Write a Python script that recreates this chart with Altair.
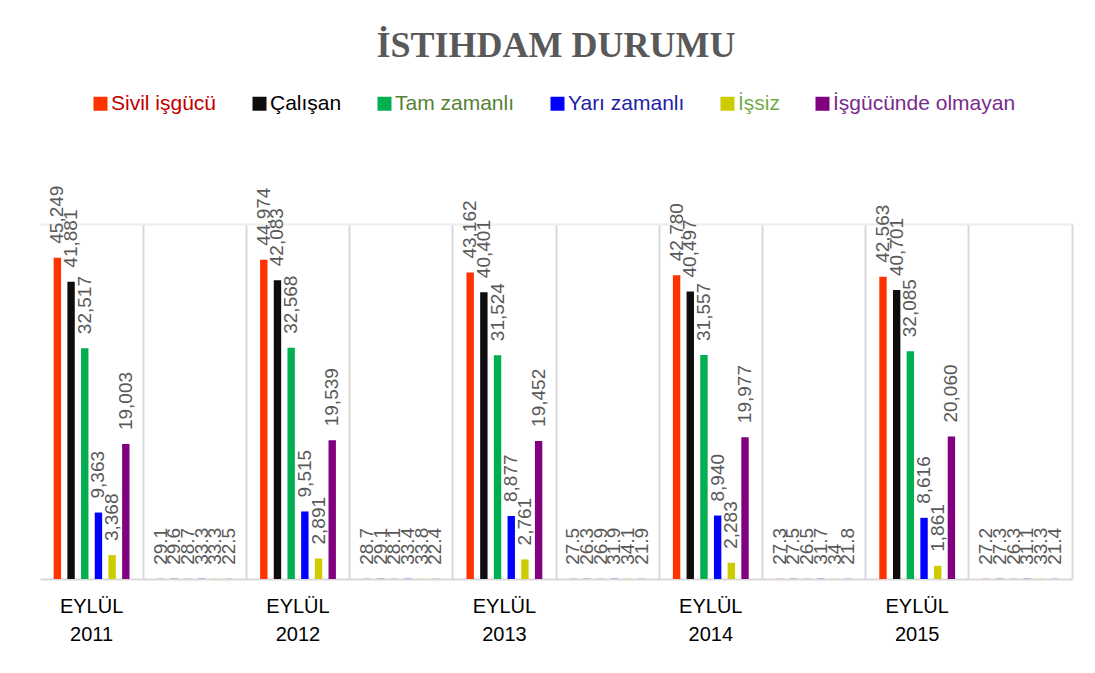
import altair as alt
import pandas as pd

# ---- data ----
categories = ["EYLÜL 2011", "oran 2011", "EYLÜL 2012", "oran 2012", "EYLÜL 2013",
              "oran 2013", "EYLÜL 2014", "oran 2014", "EYLÜL 2015", "oran 2015"]
series = ["Sivil işgücü", "Çalışan", "Tam zamanlı", "Yarı zamanlı", "İşsiz", "İşgücünde olmayan"]

sivil_isgucu = [45249, 29.1, 44974, 28.7, 43162, 27.5, 42780, 27.3, 42563, 27.2]
calisan      = [41881, 29.6, 42083, 29.1, 40401, 26.3, 40497, 27.5, 40701, 27.3]
tam_zamanli  = [32517, 28.7, 32568, 28.1, 31524, 26.9, 31557, 26.5, 32085, 26.3]
yari_zamanli = [9363, 33.3, 9515, 33.4, 8877, 31.9, 8940, 31.7, 8616, 31.1]
issiz        = [3368, 33.3, 2891, 33.8, 2761, 34.1, 2283, 34.0, 1861, 33.3]
olmayan      = [19003, 22.5, 19539, 22.4, 19452, 21.9, 19977, 21.8, 20060, 21.4]

y_max = 50000
bar_colors = ["#FF3300", "#0D0D0D", "#00B050", "#0000FF", "#CCCC00", "#800080"]
legend_text_colors = ["#C00000", "#000000", "#548235", "#2222A8", "#70AD47", "#7A2A8C"]

all_values = [sivil_isgucu, calisan, tam_zamanli, yari_zamanli, issiz, olmayan]
rows = []
for s, vals in zip(series, all_values):
    for c, v in zip(categories, vals):
        rows.append({"cat": c, "series": s, "value": v})
df = pd.DataFrame(rows)

label_color_expr = " : ".join(
    f"datum.value == '{s}' ? '{col}'" for s, col in zip(series, legend_text_colors)
) + " : '#000000'"

x_enc = alt.X(
    "cat:N", sort=categories,
    scale=alt.Scale(paddingInner=0, paddingOuter=0),
    axis=alt.Axis(
        title=None, grid=True, gridColor="#D9D9D9", gridWidth=2,
        bandPosition=1,
        ticks=False, domainColor="#D9D9D9", domainWidth=2,
        labelAngle=0, labelFontSize=20, labelFont="Liberation Sans",
        labelColor="#000000", labelPadding=17, labelLineHeight=28,
        labelExpr="indexof(datum.value, 'EYLÜL') == 0 ? split(datum.value, ' ') : ''",
    ),
)
xo_enc = alt.XOffset("series:N", sort=series,
                     scale=alt.Scale(paddingInner=0.46, paddingOuter=1))
y_enc = alt.Y(
    "value:Q", scale=alt.Scale(domain=[0, y_max]),
    axis=alt.Axis(title=None, values=[y_max], grid=True, gridColor="#EDEDED",
                  gridWidth=2, labels=False, ticks=False, domain=False),
)

base = alt.Chart(df).encode(x=x_enc, xOffset=xo_enc, y=y_enc)

bars = base.mark_bar().encode(
    color=alt.Color(
        "series:N", sort=series,
        scale=alt.Scale(domain=series, range=bar_colors),
        legend=alt.Legend(
            title=None, orient="none", legendX=50, legendY=-131,
            direction="horizontal", columns=6, padding=0,
            symbolType="square", symbolSize=196, symbolStrokeWidth=0,
            labelFontSize=21, labelFont="Liberation Sans", labelOffset=0,
            columnPadding=32, labelLimit=400,
            labelColor=alt.ExprRef(expr=label_color_expr),
        ),
    )
)

labels = base.mark_text(
    angle=270, align="left", baseline="middle", dx=14,
    color="#595959", fontSize=19, font="Liberation Sans",
).transform_calculate(
    label="datum.value >= 1000 ? format(datum.value, ',') : format(datum.value, '.1~f')"
).encode(text="label:N")

chart = alt.layer(bars, labels).properties(
    width=1032, height=355,
    title=alt.TitleParams(
        text="İSTIHDAM DURUMU", font="Liberation Serif", fontSize=36,
        fontWeight="bold", color="#595959", anchor="middle",
        frame="group", baseline="alphabetic", offset=0,
    ),
    autosize=alt.AutoSizeParams(type="none"),
    padding={"left": 32, "top": 216, "right": 10, "bottom": 80},
).configure_view(stroke=None)

chart.save("out.html", embed_options={"renderer": "svg", "actions": False})
